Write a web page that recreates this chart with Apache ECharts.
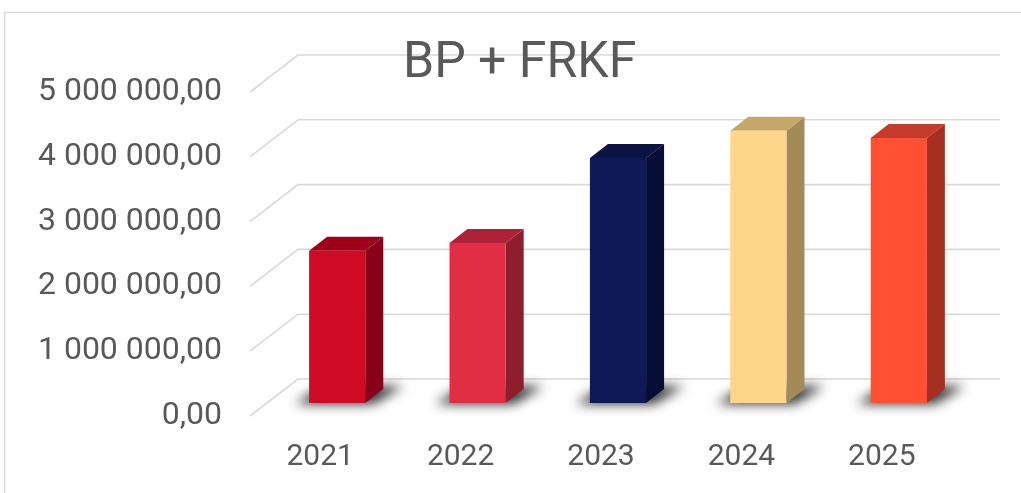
<!DOCTYPE html>
<html>
<head>
<meta charset="utf-8">
<script src="https://cdn.jsdelivr.net/npm/echarts@6/dist/echarts.min.js"></script>
<style>html,body{margin:0;padding:0;background:#fff;}#c{width:1021px;height:493px;}</style>
</head>
<body>
<div id="c"></div>
<script>
// ---- data ----
var categories = ['2021', '2022', '2023', '2024', '2025'];
var values = [2350000, 2470000, 3780000, 4200000, 4090000];
var yTicks = [0, 1000000, 2000000, 3000000, 4000000, 5000000];
var frontColors = ['#CE0A25', '#E22E45', '#0E1A57', '#FDD68A', '#FF5034'];
var sideColors = ['#86001A', '#8F1E2D', '#080D36', '#A38A57', '#A52F21'];
var topColors = ['#9E0019', '#AE2137', '#0B1342', '#C5A868', '#C23B2B'];
var titleText = 'BP + FRKF';

// ---- 3D geometry (styling) ----
var WALL_DX = 48, WALL_DY = -37;   // front plane -> back wall
var BAR_DX = 17, BAR_DY = -13;     // front plane -> bar front face
var DEP_DX = 18, DEP_DY = -14;     // bar depth
var TXT = '#595959';
var FONT = 'Roboto';

function fmt(v) {
  return Math.round(v).toString().replace(/\B(?=(\d{3})+(?!\d))/g, ' ') + ',00';
}

var chart = echarts.init(document.getElementById('c'), null, {renderer: 'canvas'});

function renderGrid(params, api) {
  var cs = params.coordSys;
  var y = api.coord([0, api.value(1)])[1];
  var x0 = cs.x;
  return {
    type: 'polyline',
    shape: {points: [[x0, y], [x0 + WALL_DX, y + WALL_DY], [x0 + WALL_DX + cs.width, y + WALL_DY]]},
    style: {stroke: '#D9D9D9', lineWidth: 1.6, fill: null},
    silent: true
  };
}

function renderBar(params, api) {
  var i = api.value(0);
  var top = api.coord([i, api.value(1)]);
  var base = api.coord([i, 0]);
  var w = api.size([1, 0])[0] * 0.4;
  var cx = top[0] + BAR_DX;
  var x0 = cx - w / 2, x1 = cx + w / 2;
  var yt = top[1] + BAR_DY, yb = base[1] + BAR_DY;
  var OFF = 3000;
  return {
    type: 'group',
    children: [
      {
        type: 'polygon',
        shape: {points: [[x0 - 14 + OFF, yb + 1], [x1 + 8 + OFF, yb + 1], [x1 + DEP_DX + 20 + OFF, yb + DEP_DY - 3], [x0 + DEP_DX - 4 + OFF, yb + DEP_DY - 3]]},
        style: {fill: 'rgba(0,0,0,0.9)', shadowBlur: 12, shadowColor: 'rgba(0,0,0,0.9)', shadowOffsetX: -OFF}
      },
      {
        type: 'polygon',
        shape: {points: [[x1, yt], [x1 + DEP_DX, yt + DEP_DY], [x1 + DEP_DX, yb + DEP_DY], [x1, yb]]},
        style: {fill: sideColors[i]}
      },
      {
        type: 'polygon',
        shape: {points: [[x0, yt], [x1, yt], [x1 + DEP_DX, yt + DEP_DY], [x0 + DEP_DX, yt + DEP_DY]]},
        style: {fill: topColors[i]}
      },
      {
        type: 'rect',
        shape: {x: x0, y: yt, width: w, height: yb - yt},
        style: {fill: frontColors[i]}
      }
    ]
  };
}

var option = {
  backgroundColor: '#ffffff',
  animation: false,
  title: {
    text: titleText,
    left: 398,
    top: 34,
    textStyle: {fontFamily: FONT, fontSize: 50, fontWeight: 'normal', color: TXT}
  },
  graphic: [{
    type: 'rect',
    shape: {x: 4.5, y: 12.5, width: 1200, height: 800},
    style: {fill: null, stroke: '#D9D9D9', lineWidth: 1.5},
    silent: true
  }],
  grid: {left: 250, right: 69, top: 92, bottom: 77, containLabel: false},
  xAxis: {
    type: 'category',
    data: categories,
    axisLine: {show: false},
    axisTick: {show: false},
    axisLabel: {fontFamily: FONT, fontSize: 30, color: TXT, margin: 26},
    splitLine: {show: false}
  },
  yAxis: {
    type: 'value',
    min: 0, max: 5000000, interval: 1000000,
    axisLine: {show: false},
    axisTick: {show: false},
    splitLine: {show: false},
    axisLabel: {fontFamily: FONT, fontSize: 32, color: TXT, margin: 28, formatter: fmt}
  },
  series: [
    {
      type: 'custom',
      renderItem: renderGrid,
      data: yTicks.map(function (v) { return [0, v]; }),
      encode: {x: 0, y: 1},
      z: 1,
      silent: true
    },
    {
      type: 'custom',
      renderItem: renderBar,
      data: values.map(function (v, i) { return [i, v]; }),
      encode: {x: 0, y: 1},
      z: 3
    }
  ]
};
chart.setOption(option);
</script>
</body>
</html>
